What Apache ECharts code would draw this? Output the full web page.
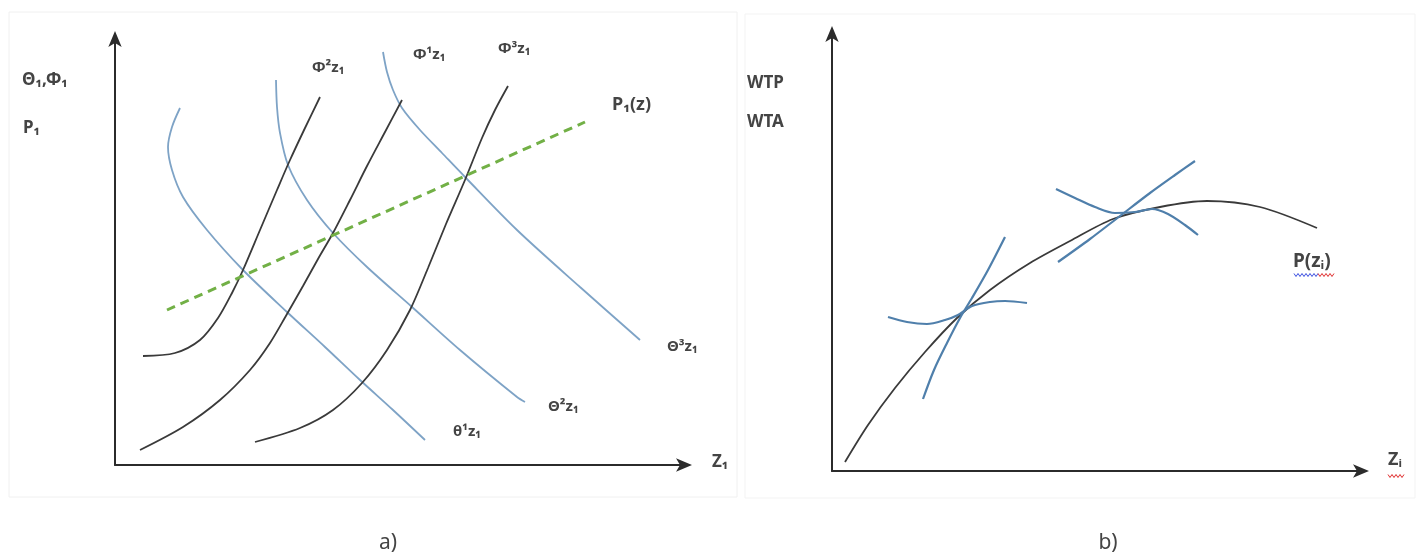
<!DOCTYPE html>
<html>
<head>
<meta charset="utf-8">
<script src="https://cdn.jsdelivr.net/npm/echarts@6.0.0/dist/echarts.min.js"></script>
<style>
  html, body { margin: 0; padding: 0; background: #fff; }
  #chart { width: 1419px; height: 559px; }
</style>
</head>
<body>
<div id="chart"></div>
<script>
// ---- Panel a) : bid functions (Φ) and offer functions (Θ) with the price schedule P1(z)
const phi2 = [[28,109],[60,112],[85,125],[103,147],[117,172],[128,195],[145,235],[162,275],[175,305],[190,337],[205,368]];
const phi1 = [[25,15],[68,38],[105,65],[135,95],[155,122],[172,151],[188,179],[203,206],[218,232],[235,265],[252,299],[270,333],[287,365]];
const phi3 = [[140,23],[185,37],[218,55],[247,82],[272,115],[295,155],[313,197],[331,241],[350,285],[367,327],[380,355],[393,379]];
const theta1 = [[65,357],[57,338],[53,318],[57,295],[68,268],[92,235],[128,195],[172,153],[210,118],[245,85],[278,55],[310,25]];
const theta2 = [[161,385],[162,358],[165,332],[173,300],[192,265],[218,232],[252,198],[297,158],[345,115],[402,68],[410,63]];
const theta3 = [[268,413],[272,393],[278,375],[287,357],[305,335],[327,312],[350,288],[402,235],[465,178],[525,125]];
const priceA = [[52,155],[470,343]];

// ---- Panel b) : hedonic price curve P(zi) with WTP / WTA tangencies
const priceB = [[13,9],[36,46],[63,83],[93,119],[125,153],[158,181],[198,208],[238,230],[281,252],[328,264],[375,270],[428,264],[485,243]];
const steepLow = [[173,234],[156,201],[140,173],[128,153],[115,128],[102,101],[91,72]];
const flatLow = [[56,154],[75,149],[95,147],[113,151],[126,156],[140,165],[158,169],[173,170],[195,168]];
const steepHigh = [[226,209],[258,232],[288,255],[318,278],[343,296],[363,310]];
const flatHigh = [[224,282],[243,273],[263,264],[283,258],[303,259],[320,262],[336,257],[353,246],[366,236]];

// axis extents (arbitrary units)
const axisA = { xMax: 573, yMax: 430 };
const axisB = { xMax: 533, yMax: 441 };

// labels
const labelsA = {
  yTitle: 'Θ₁,Φ₁', yTitle2: 'P₁', xTitle: 'Z₁',
  phi2: 'Φ²z₁', phi1: 'Φ¹z₁', phi3: 'Φ³z₁',
  theta1: 'θ¹z₁', theta2: 'Θ²z₁', theta3: 'Θ³z₁',
  price: 'P₁(z)', caption: 'a)'
};
const labelsB = { yTitle: 'WTP', yTitle2: 'WTA', xTitle: 'Zᵢ', price: 'P(zᵢ)', caption: 'b)' };

const BLACK = '#3a3a3a';
const BLUE_A = '#7ea3c6';
const BLUE_B = '#4f7fab';
const GREEN = '#72b046';
const FONT = '"Noto Sans", "DejaVu Sans", sans-serif';

function curve(data, gridIdx, color, width, dashed) {
  return {
    type: 'line',
    xAxisIndex: gridIdx,
    yAxisIndex: gridIdx,
    data: data,
    smooth: 0.3,
    showSymbol: false,
    silent: true,
    lineStyle: { color: color, width: width, type: dashed ? [9, 6] : 'solid' },
    z: dashed ? 3 : 2
  };
}

function axis(idx, max) {
  return {
    type: 'value', gridIndex: idx, min: 0, max: max,
    axisLine: { show: true, onZero: false, lineStyle: { color: '#2b2b2b', width: 2 },
                symbol: ['none', 'arrow'], symbolSize: [10, 16], symbolOffset: [0, 4] },
    axisTick: { show: false }, axisLabel: { show: false }, splitLine: { show: false }
  };
}

function txt(text, x, y, size, opts) {
  opts = opts || {};
  return {
    type: 'text', x: x, y: y, silent: true,
    style: { text: text, font: (opts.weight || 'bold') + ' ' + size + 'px ' + FONT, fill: '#444',
             textAlign: opts.align || 'left', textVerticalAlign: 'middle' }
  };
}
function squiggle(x0, x1, y, color) {
  const pts = [];
  for (let x = x0, i = 0; x <= x1; x += 2, i++) pts.push([x, y + (i % 2 ? 1.5 : -1.5)]);
  return { type: 'polyline', silent: true, shape: { points: pts }, style: { stroke: color, lineWidth: 1, fill: null } };
}

const chart = echarts.init(document.getElementById('chart'), null, { renderer: 'canvas' });
chart.setOption({
  animation: false,
  backgroundColor: '#fff',
  grid: [
    { left: 115, top: 35, width: 573, height: 430 },
    { left: 832, top: 30, width: 533, height: 441 }
  ],
  xAxis: [axis(0, axisA.xMax), axis(1, axisB.xMax)],
  yAxis: [axis(0, axisA.yMax), axis(1, axisB.yMax)],
  series: [
    curve(theta1, 0, BLUE_A, 1.8),
    curve(theta2, 0, BLUE_A, 1.8),
    curve(theta3, 0, BLUE_A, 1.8),
    curve(phi2, 0, BLACK, 1.8),
    curve(phi1, 0, BLACK, 1.8),
    curve(phi3, 0, BLACK, 1.8),
    curve(priceA, 0, GREEN, 3, true),
    curve(priceB, 1, BLACK, 1.8),
    curve(steepLow, 1, BLUE_B, 2.2),
    curve(flatLow, 1, BLUE_B, 2.2),
    curve(steepHigh, 1, BLUE_B, 2.2),
    curve(flatHigh, 1, BLUE_B, 2.2)
  ],
  graphic: [
    { type: 'rect', silent: true, shape: { x: 9, y: 12, width: 728, height: 485 },
      style: { stroke: '#f0f0f0', lineWidth: 1, fill: null } },
    { type: 'rect', silent: true, shape: { x: 745, y: 14, width: 670, height: 484 },
      style: { stroke: '#f3f3f3', lineWidth: 1, fill: null } },
    txt(labelsA.yTitle, 22, 80, 17),
    txt(labelsA.yTitle2, 23, 128, 17),
    txt(labelsA.phi2, 312, 68, 15),
    txt(labelsA.phi1, 413, 55, 15),
    txt(labelsA.phi3, 498, 49, 15),
    txt(labelsA.price, 612, 105, 18),
    txt(labelsA.theta3, 667, 347, 15),
    txt(labelsA.theta2, 548, 407, 15),
    txt(labelsA.theta1, 453, 432, 15),
    txt(labelsA.xTitle, 712, 462, 17),
    txt(labelsA.caption, 388, 543, 21, { weight: 'normal', align: 'center' }),
    txt(labelsB.yTitle, 747, 83, 17),
    txt(labelsB.yTitle2, 747, 122, 17),
    txt(labelsB.price, 1293, 262, 19),
    txt(labelsB.xTitle, 1388, 460, 18),
    txt(labelsB.caption, 1108, 543, 21, { weight: 'normal', align: 'center' }),
    squiggle(1294, 1318, 275, '#3b4fe0'),
    squiggle(1318, 1334, 275, '#e03030'),
    squiggle(1388, 1404, 476, '#e03030')
  ]
});
</script>
</body>
</html>
